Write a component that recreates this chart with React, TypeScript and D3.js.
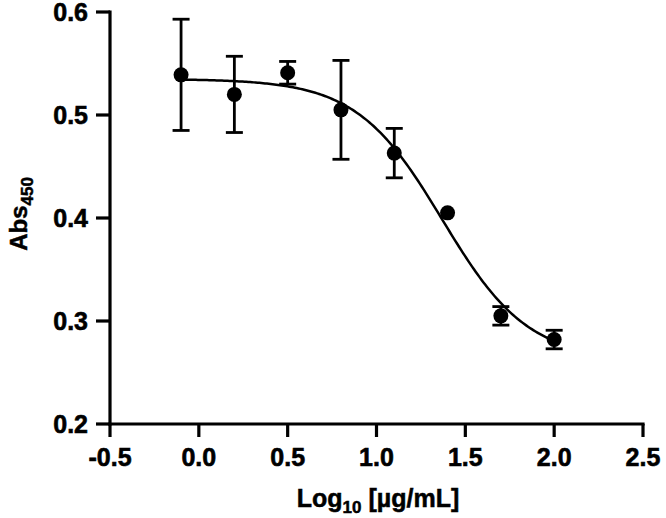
import React from "react";
import * as d3 from "d3";

const xValues = [-0.1, 0.2, 0.5, 0.8, 1.1, 1.4, 1.7, 2.0];
const yMeans = [0.539, 0.52, 0.541, 0.505, 0.463, 0.405, 0.305, 0.282];
const yErrUpper = [0.054, 0.037, 0.011, 0.048, 0.024, 0.0, 0.009, 0.009];
const yErrLower = [0.054, 0.037, 0.011, 0.048, 0.024, 0.0, 0.009, 0.009];
const xTicks = [-0.5, 0.0, 0.5, 1.0, 1.5, 2.0, 2.5];
const yTicks = [0.2, 0.3, 0.4, 0.5, 0.6];

// Four-parameter logistic fit parameters
const fitTop = 0.535;
const fitBottom = 0.262;
const fitLogIC50 = 1.37;
const fitHill = 1.8;
const fitRange = [-0.1, 2.0];

const W = 666;
const H = 518;
const FONT = "'Liberation Sans', Arial, Helvetica, sans-serif";

export default function App() {
  const x = d3.scaleLinear().domain([-0.5, 2.5]).range([110, 643]);
  const y = d3.scaleLinear().domain([0.2, 0.6]).range([424, 12]);

  const fit = (v: number) =>
    fitBottom + (fitTop - fitBottom) / (1 + Math.pow(10, (v - fitLogIC50) * fitHill));
  const curvePts: [number, number][] = d3
    .range(0, 201)
    .map((i) => fitRange[0] + ((fitRange[1] - fitRange[0]) * i) / 200)
    .map((v) => [v, fit(v)]);
  const line = d3
    .line<[number, number]>()
    .x((d) => x(d[0]))
    .y((d) => y(d[1]));

  const x0 = x(-0.5);
  const y0 = y(0.2);
  const capHalf = 8.5;

  return (
    <svg
      width={W}
      height={H}
      style={{ position: "absolute", left: 0, top: 0, background: "#fff" }}
      fontFamily={FONT}
    >
      <rect width={W} height={H} fill="#fff" />
      {/* axes */}
      <line x1={x0} x2={x0} y1={y(0.6)} y2={y0} stroke="#000" strokeWidth={3.2} strokeLinecap="square" />
      <line x1={x0} x2={x(2.5)} y1={y0} y2={y0} stroke="#000" strokeWidth={3.2} strokeLinecap="square" />
      {yTicks.map((t) => (
        <g key={"y" + t}>
          <line x1={x0 - 14} x2={x0} y1={y(t)} y2={y(t)} stroke="#000" strokeWidth={3.2} />
          <text
            x={88}
            y={y(t)}
            dy="0.34em"
            textAnchor="end"
            fontSize={25}
            fontWeight="bold"
            stroke="#000"
            strokeWidth={0.6}
          >
            {t.toFixed(1)}
          </text>
        </g>
      ))}
      {xTicks.map((t) => (
        <g key={"x" + t}>
          <line x1={x(t)} x2={x(t)} y1={y0} y2={y0 + 13} stroke="#000" strokeWidth={3.2} />
          <text
            x={x(t)}
            y={466}
            textAnchor="middle"
            fontSize={25}
            fontWeight="bold"
            stroke="#000"
            strokeWidth={0.6}
          >
            {t.toFixed(1)}
          </text>
        </g>
      ))}
      {/* axis titles */}
      <text x={378} y={507} textAnchor="middle" fontSize={25} fontWeight="bold" stroke="#000" strokeWidth={0.5}>
        Log
        <tspan fontSize={17} dy={6}>10</tspan>
        <tspan dy={-6}> [µg/mL]</tspan>
      </text>
      <text
        transform="translate(27,214) rotate(-90)"
        textAnchor="middle"
        fontSize={24}
        fontWeight="bold"
        stroke="#000"
        strokeWidth={0.5}
      >
        Abs
        <tspan fontSize={17} dy={6}>450</tspan>
      </text>
      {/* fitted curve */}
      <path d={line(curvePts) || ""} fill="none" stroke="#000" strokeWidth={2.5} />
      {/* error bars and points */}
      {xValues.map((xv, i) => {
        const cx = x(xv);
        const top = y(yMeans[i] + yErrUpper[i]);
        const bot = y(yMeans[i] - yErrLower[i]);
        return (
          <g key={"p" + i}>
            {yErrUpper[i] > 0 && (
              <g stroke="#000" strokeWidth={2.8}>
                <line x1={cx} x2={cx} y1={top} y2={bot} />
                <line x1={cx - capHalf} x2={cx + capHalf} y1={top} y2={top} />
                <line x1={cx - capHalf} x2={cx + capHalf} y1={bot} y2={bot} />
              </g>
            )}
            <circle cx={cx} cy={y(yMeans[i])} r={7.5} fill="#000" />
          </g>
        );
      })}
    </svg>
  );
}
